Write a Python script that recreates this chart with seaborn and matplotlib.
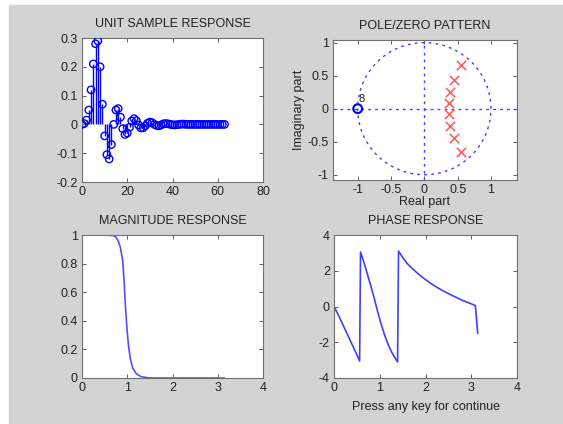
import matplotlib
matplotlib.use("Agg")
import matplotlib.pyplot as plt
from matplotlib.patches import Rectangle, Circle
import seaborn as sns
import pandas as pd

# unit sample response h[n], n = 0..63
n_idx = list(range(64))
h_vals = [0.0, 0.003, 0.015, 0.05, 0.12, 0.21, 0.28, 0.29, 0.2, 0.07,
          -0.04, -0.105, -0.12, -0.07, 0.0, 0.05, 0.055, 0.025, -0.015, -0.035,
          -0.03, -0.01, 0.012, 0.02, 0.013, -0.002, -0.012, -0.012, -0.005, 0.004,
          0.008, 0.006, 0.0, -0.004, -0.005, -0.002, 0.002, 0.003, 0.002, 0.0,
          -0.001, -0.002, -0.001, 0.0, 0.001, 0.001, 0.0, 0.0, 0.0, 0.0,
          0.0, 0.0, 0.0, 0.0, 0.0, 0.0, 0.0, 0.0, 0.0, 0.0,
          0.0, 0.0, 0.0, 0.0]

# pole / zero locations
pole_re = [0.55, 0.44, 0.38, 0.365, 0.365, 0.38, 0.44, 0.55]
pole_im = [0.66, 0.44, 0.26, 0.085, -0.085, -0.26, -0.44, -0.66]
zero_re = [-1.0]
zero_im = [0.0]
zero_mult = "8"

# magnitude response
w_mag = [0, 0.5, 0.7, 0.75, 0.8, 0.85, 0.9, 0.93, 0.96, 1.0, 1.03, 1.07,
         1.12, 1.2, 1.3, 1.4, 1.5, 1.6, 2.0, 2.5, 3.1416]
mag = [1, 1, 0.995, 0.985, 0.96, 0.91, 0.82, 0.68, 0.5, 0.32, 0.22, 0.13,
       0.07, 0.03, 0.01, 0.004, 0.001, 0, 0, 0, 0]

# phase response
w_ph = [0, 0.1, 0.2, 0.3, 0.4, 0.5, 0.56, 0.58, 0.65, 0.72, 0.8, 0.88, 0.95,
        1.02, 1.1, 1.18, 1.26, 1.34, 1.39, 1.41, 1.5, 1.6, 1.7, 1.83, 2.0,
        2.2, 2.4, 2.6, 2.8, 3.0, 3.09, 3.1416]
phase = [0, -0.5, -1.05, -1.6, -2.15, -2.7, -3.05, 3.05, 2.5, 1.9, 1.2, 0.45,
         -0.25, -0.9, -1.55, -2.1, -2.55, -2.9, -3.1, 3.1, 2.75, 2.4, 2.15,
         1.85, 1.5, 1.15, 0.85, 0.6, 0.35, 0.15, 0.05, -1.5]

W, H = 563, 424
TXT = "#222222"
FS = 9
plt.rcParams["font.family"] = ["Liberation Sans", "DejaVu Sans"]
plt.rcParams["font.size"] = FS
plt.rcParams["axes.unicode_minus"] = False
plt.rcParams["text.color"] = TXT
plt.rcParams["axes.labelcolor"] = TXT
plt.rcParams["xtick.color"] = "#606060"
plt.rcParams["ytick.color"] = "#606060"
plt.rcParams["xtick.labelcolor"] = TXT
plt.rcParams["ytick.labelcolor"] = TXT


def box(l, t, r, b):
    return [l / W, 1 - b / H, (r - l) / W, (b - t) / H]


fig = plt.figure(figsize=(W / 100, H / 100), dpi=100)
fig.patch.set_facecolor("white")
fig.add_artist(Rectangle((9 / W, 0), 1 - 9 / W, (H - 5) / H,
                         transform=fig.transFigure, color="#d3d3d3", zorder=-10))

ax1 = fig.add_axes(box(82, 38, 263, 182))
ax2 = fig.add_axes(box(333, 40, 517, 180))
ax3 = fig.add_axes(box(82, 235, 263, 378))
ax4 = fig.add_axes(box(334, 235, 517, 378))

for ax in (ax1, ax2, ax3, ax4):
    ax.set_facecolor("white")
    ax.tick_params(direction="in", top=True, right=True, length=3, width=0.7,
                   labelsize=FS, pad=3)
    for s in ax.spines.values():
        s.set_color("#707070")
        s.set_linewidth(0.8)

# unit sample response
df_h = pd.DataFrame({"n": n_idx, "h": h_vals})
ax1.vlines(df_h["n"], 0, df_h["h"], color="blue", lw=1)
sns.scatterplot(data=df_h, x="n", y="h", ax=ax1, marker="o", s=28,
                facecolor="none", edgecolor="blue", linewidth=1, zorder=3)
ax1.set_xlim(0, 80)
ax1.set_ylim(-0.2, 0.3)
ax1.set_xticks([0, 20, 40, 60, 80])
ax1.set_yticks([-0.2, -0.1, 0, 0.1, 0.2, 0.3])
ax1.set_yticklabels(["-0.2", "-0.1", "0", "0.1", "0.2", "0.3"])
ax1.set_xlabel("")
ax1.set_ylabel("")
ax1.set_title("UNIT SAMPLE RESPONSE", fontsize=FS, pad=8, color=TXT)

# pole / zero pattern
dotted = dict(color="#4040ff", lw=1, linestyle=(0, (2, 3)))
ax2.add_patch(Circle((0, 0), 1, fill=False, **dotted))
ax2.axhline(0, **dotted)
ax2.axvline(0, **dotted)
df_p = pd.DataFrame({"re": pole_re, "im": pole_im})
df_z = pd.DataFrame({"re": zero_re, "im": zero_im})
sns.scatterplot(data=df_p, x="re", y="im", ax=ax2, marker="x", s=45,
                color="#ff6060", linewidth=1.2, zorder=3)
sns.scatterplot(data=df_z, x="re", y="im", ax=ax2, marker="o", s=40,
                facecolor="none", edgecolor="blue", linewidth=1.5, zorder=3)
ax2.text(zero_re[0] + 0.02, zero_im[0] + 0.1, zero_mult, fontsize=8, color=TXT)
ax2.set_xlim(-1.37, 1.39)
ax2.set_ylim(-1.08, 1.04)
ax2.set_xticks([-1, -0.5, 0, 0.5, 1])
ax2.set_xticklabels(["-1", "-0.5", "0", "0.5", "1"])
ax2.set_yticks([-1, -0.5, 0, 0.5, 1])
ax2.set_yticklabels(["-1", "-0.5", "0", "0.5", "1"])
ax2.set_xlabel("Real part", fontsize=FS, labelpad=0)
ax2.set_ylabel("Imaginary part", fontsize=FS, labelpad=2)
ax2.set_title("POLE/ZERO PATTERN", fontsize=FS, pad=8, color=TXT)

# magnitude response
df_m = pd.DataFrame({"w": w_mag, "mag": mag})
sns.lineplot(data=df_m, x="w", y="mag", ax=ax3, color="#5050ff", lw=1.2,
             sort=False, estimator=None)
ax3.set_xlim(0, 4)
ax3.set_ylim(0, 1)
ax3.set_xticks([0, 1, 2, 3, 4])
ax3.set_yticks([0, 0.2, 0.4, 0.6, 0.8, 1])
ax3.set_yticklabels(["0", "0.2", "0.4", "0.6", "0.8", "1"])
ax3.set_xlabel("")
ax3.set_ylabel("")
ax3.set_title("MAGNITUDE RESPONSE", fontsize=FS, pad=8, color=TXT)

# phase response
df_ph = pd.DataFrame({"w": w_ph, "phase": phase})
sns.lineplot(data=df_ph, x="w", y="phase", ax=ax4, color="#4040ff", lw=1.2,
             sort=False, estimator=None)
ax4.set_xlim(0, 4)
ax4.set_ylim(-4, 4)
ax4.set_xticks([0, 1, 2, 3, 4])
ax4.set_yticks([-4, -2, 0, 2, 4])
ax4.set_xlabel("Press any key for continue", fontsize=FS, labelpad=5)
ax4.set_ylabel("")
ax4.set_title("PHASE RESPONSE", fontsize=FS, pad=8, color=TXT)

fig.savefig("out.png", dpi=100, facecolor=fig.get_facecolor())
